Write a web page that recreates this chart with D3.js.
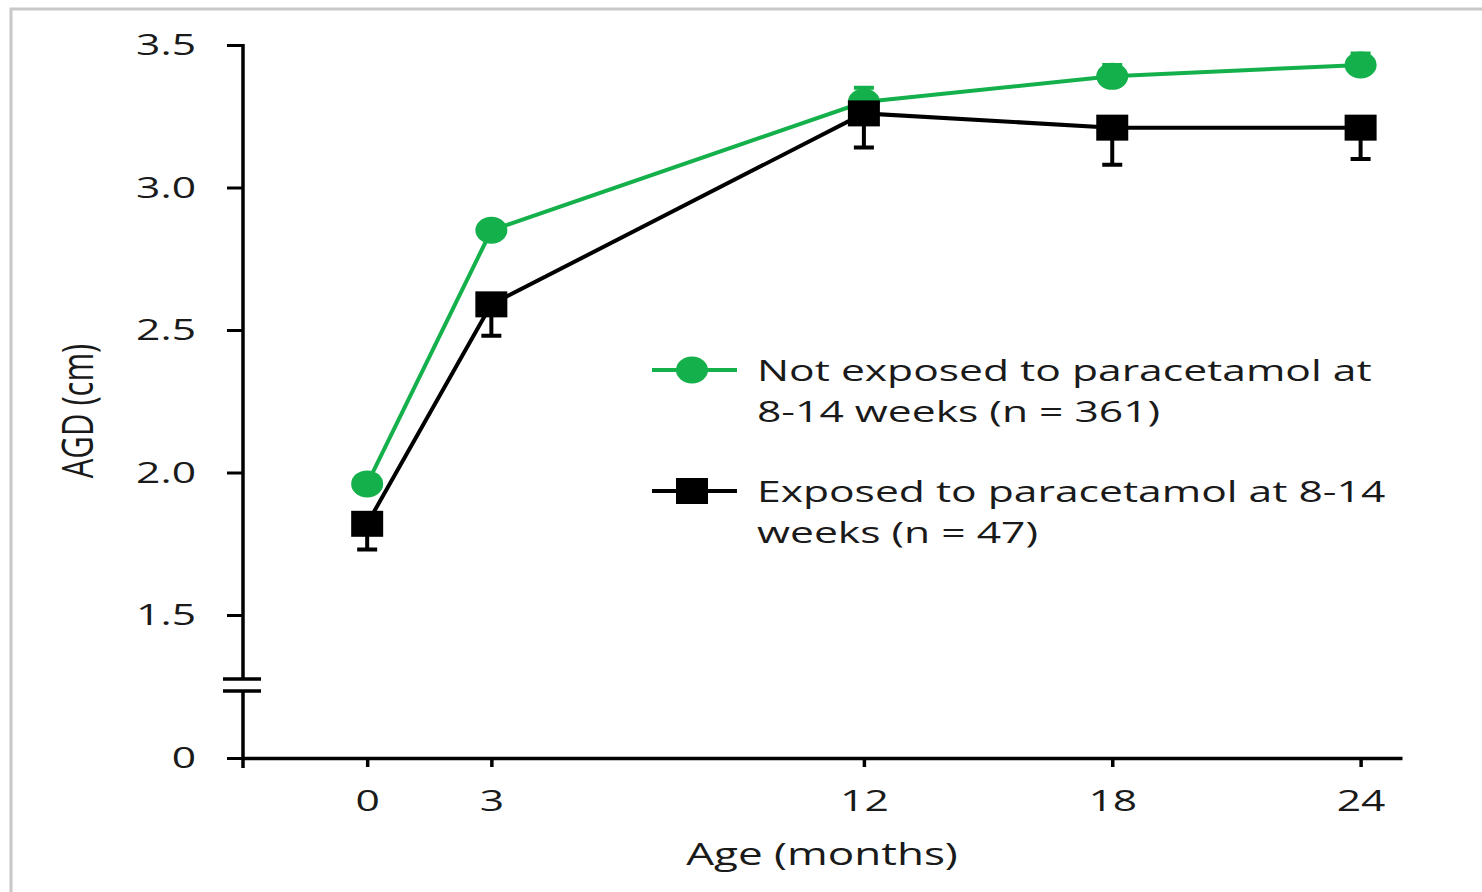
<!DOCTYPE html>
<html>
<head>
<meta charset="utf-8">
<script src="https://cdn.jsdelivr.net/npm/d3@7"></script>
<style>
  body { margin: 0; background: #fff; }
  text { font-family: "Open Sans", sans-serif; fill: #1a1a1a; }
</style>
</head>
<body>
<svg id="chart" width="1482" height="892"></svg>
<script>
// data
var months = [0, 3, 12, 18, 24];
var notExposed = [1.96, 2.85, 3.30, 3.39, 3.43];
var notExposedUp = [1.99, 2.88, 3.35, 3.43, 3.47];   // upper end of error bar
var exposed = [1.82, 2.59, 3.26, 3.21, 3.21];
var exposedLow = [1.73, 2.48, 3.14, 3.08, 3.10];     // lower end of error bar
var yTicks = [0, 1.5, 2.0, 2.5, 3.0, 3.5];
var legendNot = ["Not exposed to paracetamol at", "8-14 weeks (n = 361)"];
var legendExp = ["Exposed to paracetamol at 8-14", "weeks (n = 47)"];

var green = "#13b04b";
var sx = 1.42;   // the original figure is stretched sideways
var svg = d3.select("#chart");

// frame
svg.append("rect")
  .attr("x", 11).attr("y", 9)
  .attr("width", 1490).attr("height", 900)
  .attr("fill", "none").attr("stroke", "#c8c8c8").attr("stroke-width", 3);

// scales - y is broken between 0 and 1.5
var x = d3.scaleLinear().domain([-3, 25]).range([243, 1402]);
var y = d3.scaleLinear().domain([0, 1.5, 3.5]).range([758, 615, 45]);

// x axis
var xAxis = svg.append("g").attr("transform", "translate(0,758)")
  .call(d3.axisBottom(x).tickValues(months).tickSize(9).tickPadding(23).tickSizeOuter(0));
xAxis.select(".domain").attr("stroke", "#000").attr("stroke-width", 3.5);
xAxis.selectAll(".tick line").attr("stroke", "#000").attr("stroke-width", 3.5);
xAxis.selectAll(".tick text").attr("font-size", 30).attr("fill", "#1a1a1a")
  .attr("font-family", "'Open Sans', sans-serif")
  .attr("transform", "scale(" + sx + ",1)");

// y axis (drawn by hand in two pieces around the break)
var yAxis = svg.append("g").attr("transform", "translate(243,0)")
  .call(d3.axisLeft(y).tickValues(yTicks).tickSize(16)
    .tickFormat(function(d) { return d === 0 ? "0" : d3.format(".1f")(d); }));
yAxis.select(".domain").remove();
yAxis.selectAll(".tick line").attr("stroke", "#000").attr("stroke-width", 3);
yAxis.selectAll(".tick text").attr("font-size", 30).attr("fill", "#1a1a1a")
  .attr("font-family", "'Open Sans', sans-serif")
  .attr("x", -47 / sx)
  .attr("transform", "scale(" + sx + ",1)");

var brkTop = y(1.5) + 64, brkBot = y(1.5) + 76;
svg.append("line").attr("x1", 243).attr("x2", 243)
  .attr("y1", y(3.5) - 1).attr("y2", brkTop)
  .attr("stroke", "#000").attr("stroke-width", 3.5);
svg.append("line").attr("x1", 243).attr("x2", 243)
  .attr("y1", brkBot).attr("y2", y(0) + 10)
  .attr("stroke", "#000").attr("stroke-width", 3.5);
[brkTop, brkBot].forEach(function(b) {
  svg.append("line").attr("x1", 223).attr("x2", 261)
    .attr("y1", b).attr("y2", b)
    .attr("stroke", "#000").attr("stroke-width", 3.5);
});

// axis titles
svg.append("text")
  .attr("transform", "translate(93,411) scale(" + sx + ",1) rotate(-90)")
  .attr("text-anchor", "middle").attr("font-size", 31)
  .text("AGD (cm)");
svg.append("text")
  .attr("transform", "translate(822,865) scale(" + sx + ",1)")
  .attr("text-anchor", "middle").attr("font-size", 31)
  .text("Age (months)");

// lines
var line = d3.line().x(function(d) { return x(d[0]); }).y(function(d) { return y(d[1]); });
svg.append("path").datum(d3.zip(months, notExposed))
  .attr("d", line).attr("fill", "none").attr("stroke", green).attr("stroke-width", 4);
svg.append("path").datum(d3.zip(months, exposed))
  .attr("d", line).attr("fill", "none").attr("stroke", "#000").attr("stroke-width", 4);

// error bars
function errPath(d) {
  return "M" + x(d[0]) + "," + y(d[1]) + "V" + y(d[2]) +
    "M" + (x(d[0]) - 10) + "," + y(d[2]) + "H" + (x(d[0]) + 10);
}
svg.selectAll(".errG").data(d3.zip(months, notExposed, notExposedUp)).enter()
  .append("path").attr("d", errPath)
  .attr("fill", "none").attr("stroke", green).attr("stroke-width", 4);
svg.selectAll(".errB").data(d3.zip(months, exposed, exposedLow)).enter()
  .append("path").attr("d", errPath)
  .attr("fill", "none").attr("stroke", "#000").attr("stroke-width", 4);

// markers
svg.selectAll(".dotG").data(d3.zip(months, notExposed)).enter()
  .append("ellipse")
  .attr("cx", function(d) { return x(d[0]); })
  .attr("cy", function(d) { return y(d[1]); })
  .attr("rx", 16).attr("ry", 13.5).attr("fill", green);
svg.selectAll(".sqB").data(d3.zip(months, exposed)).enter()
  .append("rect")
  .attr("x", function(d) { return x(d[0]) - 16; })
  .attr("y", function(d) { return y(d[1]) - 13; })
  .attr("width", 32).attr("height", 26).attr("fill", "#000");

// legend
var lg = svg.append("g").attr("transform", "translate(652,370)");
lg.append("line").attr("x1", 0).attr("x2", 85).attr("y1", 0).attr("y2", 0)
  .attr("stroke", green).attr("stroke-width", 4);
lg.append("ellipse").attr("cx", 40).attr("cy", 0).attr("rx", 16).attr("ry", 13.5).attr("fill", green);
lg.append("line").attr("x1", 0).attr("x2", 85).attr("y1", 121).attr("y2", 121)
  .attr("stroke", "#000").attr("stroke-width", 4);
lg.append("rect").attr("x", 24).attr("y", 108).attr("width", 32).attr("height", 26).attr("fill", "#000");

lg.selectAll(".t1").data(legendNot).enter().append("text")
  .attr("transform", function(d, i) { return "translate(105," + (11 + i * 41) + ") scale(" + sx + ",1)"; })
  .attr("font-size", 30).text(function(d) { return d; });
lg.selectAll(".t2").data(legendExp).enter().append("text")
  .attr("transform", function(d, i) { return "translate(105," + (132 + i * 41) + ") scale(" + sx + ",1)"; })
  .attr("font-size", 30).text(function(d) { return d; });
</script>
</body>
</html>
